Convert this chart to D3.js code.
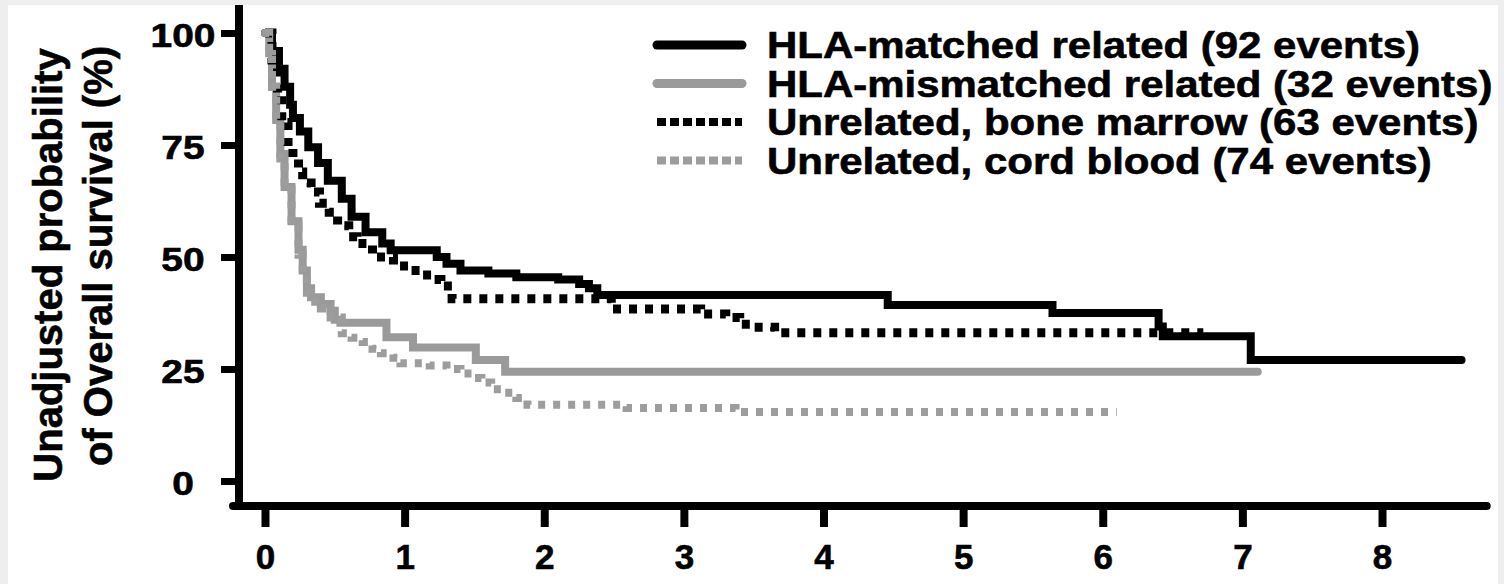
<!DOCTYPE html>
<html>
<head>
<meta charset="utf-8">
<script src="https://cdn.jsdelivr.net/npm/d3@7"></script>
<style>
  html, body { margin: 0; padding: 0; background: #eeeeee; }
  svg { display: block; }
  text { font-family: "Liberation Sans", Arial, sans-serif; font-weight: bold; fill: #000; stroke: #000; stroke-width: 0.6; }
</style>
</head>
<body>
<script>
const width = 1504;
const height = 584;

// legend labels, in drawing order of the legend
const seriesNames = [
  'HLA-matched related (92 events)',
  'HLA-mismatched related (32 events)',
  'Unrelated, bone marrow (63 events)',
  'Unrelated, cord blood (74 events)'
];
const xTicks = [0, 1, 2, 3, 4, 5, 6, 7, 8];
const yTicks = [0, 25, 50, 75, 100];

// Kaplan-Meier steps: time (years) of each step, survival (%) after it
const matchedYears = [0, 0.05, 0.1, 0.14, 0.18, 0.2, 0.25, 0.31, 0.38, 0.45, 0.55, 0.62, 0.72, 0.84, 0.9, 1.23, 1.3, 1.4, 1.6, 1.8, 2.1, 2.25, 2.32, 2.38, 4.46, 5.64, 6.4, 6.43, 7.06, 8.57];
const matchedSurv  = [100, 96, 92, 88, 84, 81, 78, 74.5, 71, 67, 63, 59, 55.5, 53, 51.5, 50, 48.5, 47, 46.3, 45.5, 45, 44, 43, 41.5, 39.3, 37.5, 34.5, 32.3, 27, 27];

const mismatchedYears = [0, 0.03, 0.05, 0.08, 0.11, 0.14, 0.19, 0.24, 0.27, 0.3, 0.33, 0.4, 0.47, 0.5, 0.54, 0.87, 1.06, 1.51, 1.72, 7.11];
const mismatchedSurv  = [100, 95.5, 88, 80.6, 73, 65.6, 58, 51.6, 47, 43, 41, 39.5, 38, 36, 35.3, 32.1, 29.8, 27, 24.4, 24.4];

const marrowYears = [0, 0.05, 0.09, 0.12, 0.165, 0.2, 0.24, 0.27, 0.33, 0.39, 0.46, 0.52, 0.6, 0.66, 0.77, 0.92, 1.04, 1.12, 1.2, 1.26, 1.34, 2.48, 3.12, 3.3, 3.4, 3.5, 3.65, 6.72];
const marrowSurv  = [100, 94, 86, 80, 74.5, 72, 69, 66.5, 64.5, 62, 60, 57, 54.5, 53, 50, 48, 47, 46, 45, 43.5, 40.7, 38.4, 37.3, 36.5, 35, 34.3, 33.1, 33.1];

const cordYears = [0, 0.03, 0.05, 0.08, 0.11, 0.14, 0.19, 0.24, 0.27, 0.3, 0.33, 0.4, 0.47, 0.55, 0.62, 0.7, 0.77, 0.83, 0.92, 0.97, 1.18, 1.3, 1.4, 1.48, 1.55, 1.62, 1.72, 1.8, 1.88, 2.59, 3.37, 6.1];
const cordSurv  = [100, 95, 88, 80, 72, 65, 57, 50.5, 46, 42, 40, 38.5, 36.5, 33, 32, 31, 29.5, 28.5, 27.5, 26.3, 25.8, 25, 24, 23, 22, 20.5, 19.7, 18.5, 17, 16.3, 15.4, 15.4];

const styles = [
  { color: '#000', dash: null, width: 8, legendDash: null },
  { color: '#9a9a9a', dash: null, width: 8, legendDash: null },
  { color: '#000', dash: '8,8', width: 9, legendDash: '9,4' },
  { color: '#9d9d9d', dash: '7,8', width: 8, legendDash: '9,4' }
];

const series = [
  { name: seriesNames[0], pts: d3.zip(matchedYears, matchedSurv), st: styles[0] },
  { name: seriesNames[1], pts: d3.zip(mismatchedYears, mismatchedSurv), st: styles[1] },
  { name: seriesNames[2], pts: d3.zip(marrowYears, marrowSurv), st: styles[2] },
  { name: seriesNames[3], pts: d3.zip(cordYears, cordSurv), st: styles[3] }
];

const x = d3.scaleLinear().domain([0, 8]).range([265, 1382]);
const y = d3.scaleLinear().domain([0, 100]).range([481, 33]);
const axisX = 239;   // pixel column of the y axis
const axisY = 506;   // pixel row of the x axis

const svg = d3.select('body')
  .append('svg')
  .attr('width', width)
  .attr('height', height);

// white card on the grey page
svg.append('rect')
  .attr('x', 8).attr('y', 5)
  .attr('width', 1490).attr('height', height)
  .attr('fill', '#fff');

// y axis
const yAxis = svg.append('g')
  .attr('transform', `translate(${axisX},0)`)
  .call(d3.axisLeft(y).tickValues(yTicks).tickSize(18).tickFormat(d3.format('d')));
yAxis.select('.domain').remove();
yAxis.selectAll('.tick line').attr('stroke', '#000').attr('stroke-width', 7);
yAxis.selectAll('.tick text')
  .attr('x', 0).attr('dy', 0).attr('y', 0)
  .attr('text-anchor', 'middle')
  .attr('font-size', 33)
  .attr('transform', 'translate(-56,13) scale(1.18,1)');

// x axis
const xAxis = svg.append('g')
  .attr('transform', `translate(0,${axisY})`)
  .call(d3.axisBottom(x).tickValues(xTicks).tickSize(21).tickFormat(d3.format('d')));
xAxis.select('.domain').remove();
xAxis.selectAll('.tick line').attr('stroke', '#000').attr('stroke-width', 8);
xAxis.selectAll('.tick text')
  .attr('y', 63).attr('dy', 0)
  .attr('font-size', 35);

// axis lines
svg.append('line')
  .attr('x1', axisX).attr('x2', axisX)
  .attr('y1', 5).attr('y2', axisY + 4)
  .attr('stroke', '#000').attr('stroke-width', 8);
svg.append('line')
  .attr('x1', axisX - 6).attr('x2', x(8.75))
  .attr('y1', axisY).attr('y2', axisY)
  .attr('stroke', '#000').attr('stroke-width', 8)
  .attr('stroke-linecap', 'round');

// y axis title
const yTitle = svg.append('g').attr('font-size', 40);
yTitle.append('text')
  .attr('transform', 'translate(62,265) rotate(-90)')
  .attr('text-anchor', 'middle')
  .text('Unadjusted probability');
yTitle.append('text')
  .attr('transform', 'translate(112,256) rotate(-90)')
  .attr('text-anchor', 'middle')
  .text('of Overall survival (%)');

// survival curves
const line = d3.line()
  .x(d => x(d[0]))
  .y(d => y(d[1]))
  .curve(d3.curveStepAfter);

svg.append('g')
  .attr('class', 'curves')
  .selectAll('path')
  .data(series)
  .enter()
  .append('path')
  .attr('d', d => line(d.pts))
  .attr('fill', 'none')
  .attr('stroke', d => d.st.color)
  .attr('stroke-width', d => d.st.width)
  .attr('stroke-dasharray', d => d.st.dash)
  .attr('stroke-linecap', d => d.st.dash ? 'butt' : 'round')
  .attr('stroke-linejoin', 'miter');

// legend
const legend = svg.append('g')
  .attr('class', 'legend')
  .selectAll('g')
  .data(series)
  .enter()
  .append('g')
  .attr('transform', (d, i) => `translate(654,${58 + i * 38.5})`);
legend.append('line')
  .attr('x1', 3).attr('x2', 88)
  .attr('y1', -13).attr('y2', -13)
  .attr('stroke', d => d.st.color)
  .attr('stroke-width', d => d.st.dash ? 8 : 9)
  .attr('stroke-linecap', d => d.st.dash ? 'butt' : 'round')
  .attr('stroke-dasharray', d => d.st.legendDash);
legend.append('text')
  .attr('transform', 'translate(113,0) scale(1.15,1)')
  .attr('font-size', 36.5)
  .text(d => d.name);
</script>
</body>
</html>
